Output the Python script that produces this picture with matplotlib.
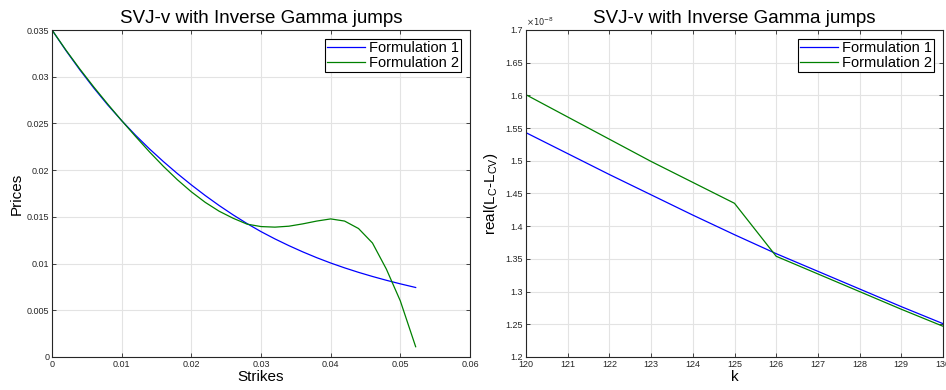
import matplotlib
matplotlib.use("Agg")
import matplotlib.pyplot as plt
from matplotlib.ticker import FuncFormatter, MultipleLocator

plt.rcParams['font.family'] = ['Liberation Sans', 'DejaVu Sans']

# Left panel data
strikes = [0.000, 0.002, 0.004, 0.006, 0.008, 0.010, 0.012, 0.014, 0.016, 0.018,
           0.020, 0.022, 0.024, 0.026, 0.028, 0.030, 0.032, 0.034, 0.036, 0.038,
           0.040, 0.042, 0.044, 0.046, 0.048, 0.050, 0.0522]
prices_f1 = [0.03500, 0.03280, 0.03073, 0.02879, 0.02698, 0.02530, 0.02373, 0.02227, 0.02091, 0.01963,
             0.01842, 0.01728, 0.01621, 0.01521, 0.01428, 0.01342, 0.01264, 0.01192, 0.01125, 0.01063,
             0.01006, 0.00954, 0.00906, 0.00862, 0.00821, 0.00783, 0.00744]
prices_f2 = [0.03500, 0.03285, 0.03082, 0.02890, 0.02707, 0.02530, 0.02360, 0.02195, 0.02040, 0.01897,
             0.01768, 0.01655, 0.01560, 0.01485, 0.01422, 0.01396, 0.01390, 0.01400, 0.01425, 0.01455,
             0.01478, 0.01455, 0.01375, 0.01220, 0.00940, 0.00600, 0.00110]

# Right panel data (values in units of 1e-8)
k_vals = [120, 121, 122, 123, 124, 125, 126, 127, 128, 129, 130]
diff_f1 = [1.543, 1.511, 1.479, 1.448, 1.417, 1.387, 1.358, 1.331, 1.304, 1.277, 1.251]
diff_f2 = [1.601, 1.567, 1.533, 1.499, 1.467, 1.435, 1.354, 1.327, 1.300, 1.273, 1.247]

title = 'SVJ-v with Inverse Gamma jumps'
labels = ['Formulation 1', 'Formulation 2']
blue = '#0000ff'
green = '#008000'
spine_col = '#262626'

fig = plt.figure(figsize=(9.46, 3.90), dpi=100)
ax1 = fig.add_axes([52/946, 1-357/390, 418/946, 327/390])
ax2 = fig.add_axes([526/946, 1-357/390, 417/946, 327/390])

def style(ax):
    for s in ax.spines.values():
        s.set_color(spine_col)
        s.set_linewidth(0.8)
    ax.tick_params(direction='in', top=True, right=True, length=3, width=0.6,
                   labelsize=6.5, colors=spine_col, pad=2)
    ax.grid(True, color='#e3e3e3', linewidth=0.8)
    ax.set_axisbelow(True)

ax1.plot(strikes, prices_f1, color=blue, lw=0.9, label=labels[0])
ax1.plot(strikes, prices_f2, color=green, lw=0.9, label=labels[1])
ax1.set_xlim(0, 0.06)
ax1.set_ylim(0, 0.035)
ax1.xaxis.set_major_locator(MultipleLocator(0.01))
ax1.yaxis.set_major_locator(MultipleLocator(0.005))
fmt = FuncFormatter(lambda v, p: '%g' % round(v, 6))
ax1.xaxis.set_major_formatter(fmt)
ax1.yaxis.set_major_formatter(fmt)
style(ax1)
ax1.set_title(title, fontsize=13.5, pad=5)
ax1.set_xlabel('Strikes', fontsize=11, labelpad=1)
ax1.set_ylabel('Prices', fontsize=11, labelpad=2)

ax2.plot(k_vals, [v * 1e-8 for v in diff_f1], color=blue, lw=0.9, label=labels[0])
ax2.plot(k_vals, [v * 1e-8 for v in diff_f2], color=green, lw=0.9, label=labels[1])
ax2.set_xlim(120, 130)
ax2.set_ylim(1.2e-8, 1.7e-8)
ax2.xaxis.set_major_locator(MultipleLocator(1))
ax2.yaxis.set_major_locator(MultipleLocator(0.05e-8))
ax2.xaxis.set_major_formatter(FuncFormatter(lambda v, p: '%g' % v))
ax2.yaxis.set_major_formatter(FuncFormatter(lambda v, p: '%g' % round(v / 1e-8, 4)))
style(ax2)
ax2.text(0.0, 1.005, r'$\times10^{-8}$', transform=ax2.transAxes, fontsize=6,
         color=spine_col, ha='left', va='bottom')
ax2.set_title(title, fontsize=13.5, pad=5)
ax2.set_xlabel('k', fontsize=11, labelpad=1)
ax2.set_ylabel(r'real(L$_\mathregular{C}$-L$_\mathregular{CV}$)', fontsize=11, labelpad=4)

for ax in (ax1, ax2):
    leg = ax.legend(loc='upper right', fontsize=10.5, fancybox=False, framealpha=1,
                    edgecolor='#000000', borderpad=0.15, labelspacing=0.05,
                    handlelength=2.6, handletextpad=0.3, borderaxespad=0.6)
    leg.get_frame().set_linewidth(0.8)

fig.savefig('out.png', dpi=100)
